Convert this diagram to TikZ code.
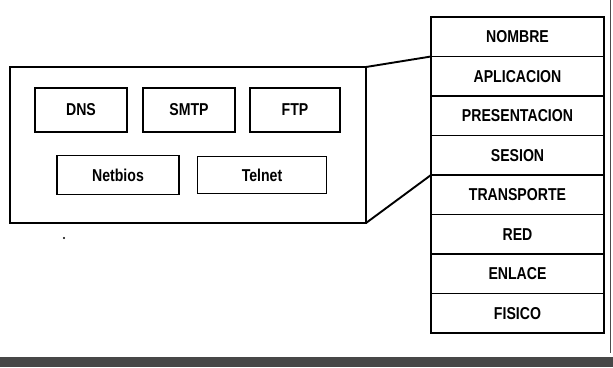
\documentclass[tikz,border=0pt]{standalone}
\usepackage{fontspec}
\setmainfont{Liberation Sans}[FakeStretch=0.82]
\begin{document}
\begin{tikzpicture}[x=1pt,y=-1pt,
  every node/.style={font=\fontsize{17.2}{20}\selectfont\bfseries, inner sep=0pt, outer sep=0pt},
  frame/.style={draw, line width=1.7pt},
  protobox/.style={draw, line width=1.7pt, minimum height=44pt},
  layerbox/.style={draw, line width=1.7pt, minimum width=173pt, minimum height=39.5pt},
  conn/.style={line width=1.9pt}]
\useasboundingbox (0,0) rectangle (613,367);
% application frame
\node[frame, minimum width=356pt, minimum height=156pt] (app) at (188,145) {};
% protocol boxes
\node[protobox, minimum width=92pt] (dns) at (81,110) {DNS};
\node[protobox, minimum width=92pt] (smtp) at (189,110) {SMTP};
\node[protobox, minimum width=90pt] (ftp) at (295,110) {FTP};
\node[protobox, minimum width=122pt, minimum height=39pt] (netbios) at (118,175) {Netbios};
\node[protobox, minimum width=129pt, minimum height=37pt] (telnet) at (262,175) {Telnet};
% layer stack
\node[layerbox] (nombre) at (517.5,36.75) {NOMBRE};
\node[layerbox, anchor=north] (aplic) at (nombre.south) {APLICACION};
\node[layerbox, anchor=north] (pres) at (aplic.south) {PRESENTACION};
\node[layerbox, anchor=north] (sesion) at (pres.south) {SESION};
\node[layerbox, anchor=north] (transp) at (sesion.south) {TRANSPORTE};
\node[layerbox, anchor=north] (red) at (transp.south) {RED};
\node[layerbox, anchor=north] (enlace) at (red.south) {ENLACE};
\node[layerbox, anchor=north] (fisico) at (enlace.south) {FISICO};
% connectors
\draw[conn] (app.north east) -- (aplic.north west);
\draw[conn] (app.south east) -- (transp.north west);
% scan marks
\coordinate (vtop) at (610.5,0);
\coordinate (vbot) at (610.5,353);
\draw[line width=1.1pt, black!70] (vtop) -- (vbot);
\fill (64,238) circle (1.1pt);
\fill[black!72] (0,357) rectangle (613,367);
\end{tikzpicture}
\end{document}
